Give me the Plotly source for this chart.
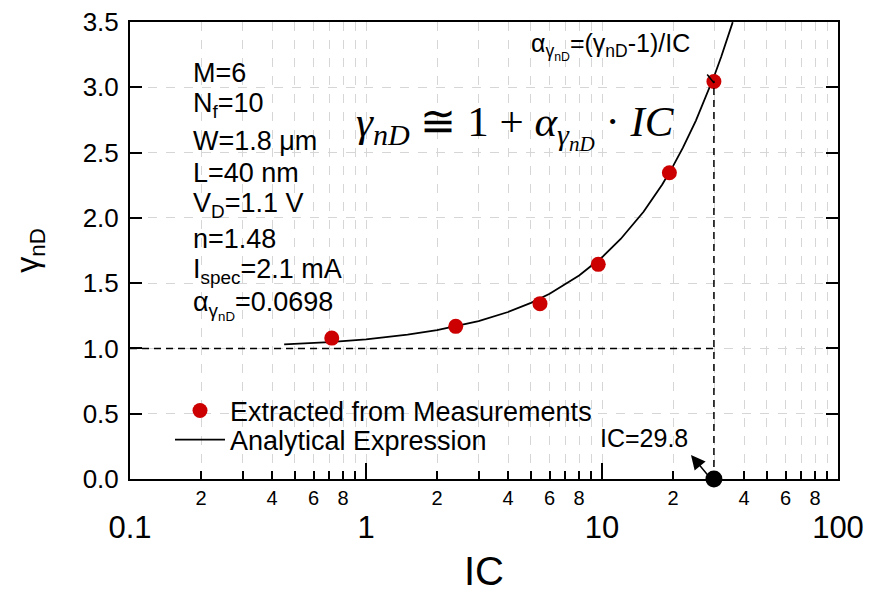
import plotly.graph_objects as go

# ---- data ----
meas_ic = [0.716, 2.40, 5.46, 9.64, 19.3, 29.8]
meas_gamma = [1.079, 1.169, 1.343, 1.644, 2.346, 3.044]

curve_ic = [0.45, 0.7, 1.0, 1.5, 2.0, 3.0, 4.0, 5.0, 6.0, 8.0, 10.0, 12.0, 15.0,
            18.0, 20.0, 22.0, 25.0, 28.0, 30.0, 32.0, 34.0, 35.8]
curve_gamma = [1.031, 1.049, 1.070, 1.105, 1.140, 1.209, 1.279, 1.349, 1.419, 1.558,
               1.698, 1.838, 2.047, 2.256, 2.396, 2.536, 2.745, 2.954, 3.094, 3.234,
               3.373, 3.499]

ic_mark = 29.8
gamma_mark = 3.05
gamma_unity = 1.0
x_start = 0.1

major_vals = [0.1, 1, 10, 100]
major_text = ["0.1", "1", "10", "100"]
minor_vals = [m * d for d in [0.1, 1, 10] for m in range(1, 10)] + [100]
minor_text = [("%d" % m) if m in (2, 4, 6, 8) else "" for d in [0.1, 1, 10] for m in range(1, 10)] + [""]

y_ticks = [0, 0.5, 1.0, 1.5, 2.0, 2.5, 3.0, 3.5]

info_lines = ["M=6", "N<sub>f</sub>=10", "W=1.8 μm", "L=40 nm", "V<sub>D</sub>=1.1 V",
              "n=1.48", "I<sub>spec</sub>=2.1 mA", "α<sub>γ<sub>nD</sub></sub>=0.0698"]

SANS = "Liberation Sans, Arial, sans-serif"
NARROW = "Liberation Sans Narrow, Liberation Sans, Arial, sans-serif"
SERIF = "Liberation Serif, Times New Roman, serif"

W, H = 876, 593
ML, MR, MT, MB = 130, 38, 22, 114
PW, PH = W - ML - MR, H - MT - MB


def px(xp):
    return (xp - ML) / PW


def py(yp):
    return (H - MB - yp) / PH


fig = go.Figure()

fig.add_trace(go.Scatter(x=curve_ic, y=curve_gamma, mode="lines",
                         line=dict(color="black", width=1.8),
                         name="Analytical Expression", legend="legend2"))
fig.add_trace(go.Scatter(x=meas_ic, y=meas_gamma, mode="markers",
                         marker=dict(color="#cc0000", size=15),
                         name="Extracted from Measurements", legend="legend"))
fig.add_trace(go.Scatter(x=[x_start, ic_mark], y=[gamma_unity, gamma_unity], mode="lines",
                         line=dict(color="black", width=1.5, dash="7px,5px"),
                         showlegend=False, hoverinfo="skip"))
fig.add_trace(go.Scatter(x=[ic_mark, ic_mark], y=[0, gamma_mark], mode="lines",
                         line=dict(color="black", width=1.5, dash="7px,5px"),
                         showlegend=False, hoverinfo="skip"))
fig.add_trace(go.Scatter(x=[ic_mark], y=[0], mode="markers", xaxis="x2",
                         marker=dict(color="black", size=17), cliponaxis=False,
                         showlegend=False, hoverinfo="skip"))

leg_common = dict(xanchor="left", yanchor="middle", bgcolor="rgba(0,0,0,0)",
                  font=dict(size=27, family=SANS), itemwidth=50, borderwidth=0)

fig.update_layout(
    width=W, height=H,
    margin=dict(l=ML, r=MR, t=MT, b=MB, autoexpand=False),
    plot_bgcolor="white", paper_bgcolor="white",
    font=dict(family=SANS, color="black"),
    xaxis=dict(type="log", range=[-1, 2], tickmode="array", tickvals=minor_vals,
               ticktext=minor_text, ticks="inside", ticklen=8, tickwidth=1.5,
               tickcolor="black", tickfont=dict(size=20, family=NARROW),
               showline=True, linewidth=2, linecolor="black", mirror=True,
               showgrid=True, gridcolor="#d6d6d6", griddash="dash", gridwidth=1,
               zeroline=False, automargin=False),
    xaxis2=dict(type="log", range=[-1, 2], overlaying="x", anchor="y", side="bottom",
                tickmode="array", tickvals=major_vals, ticktext=major_text,
                ticks="inside", ticklen=16, tickwidth=1.5, tickcolor="black",
                tickfont=dict(size=31, family=NARROW), ticklabelstandoff=27,
                showline=False, showgrid=False, zeroline=False, automargin=False,
                title=dict(text="IC", font=dict(size=40, family=NARROW), standoff=22)),
    yaxis=dict(range=[0, 3.5], tickmode="array", tickvals=y_ticks, tickformat=".1f",
               ticks="inside", ticklen=12, tickwidth=1.5, tickcolor="black",
               tickfont=dict(size=26), showline=True, linewidth=2, linecolor="black",
               mirror="ticks", showgrid=True, gridcolor="#d6d6d6", griddash="dash",
               gridwidth=1, zeroline=False, ticklabelstandoff=4, automargin=False,
               title=dict(text="γ<sub>nD</sub>", font=dict(size=32), standoff=34)),
    legend=dict(x=px(170), y=py(411), **leg_common),
    legend2=dict(x=px(170), y=py(440), **leg_common),
)

# white box behind the parameter list
fig.add_shape(type="rect", xref="paper", yref="paper",
              x0=px(188), x1=px(352), y0=py(325), y1=py(55),
              fillcolor="white", line=dict(width=0), layer="between")
# white box behind the legend
fig.add_shape(type="rect", xref="paper", yref="paper",
              x0=px(168), x1=px(606), y0=py(456), y1=py(396),
              fillcolor="white", line=dict(width=0), layer="between")

info_y = [73, 105, 141, 173, 205, 239, 271, 305]
for t, yp in zip(info_lines, info_y):
    fig.add_annotation(text=t, xref="paper", yref="paper", x=px(191), y=py(yp),
                       xanchor="left", yanchor="middle", showarrow=False,
                       font=dict(size=27, family=SANS))

fig.add_annotation(
    text="<i>γ<sub>nD</sub></i> ≅ 1 + <i>α<sub>γ<sub>nD</sub></sub></i> · <i>IC</i>",
    xref="paper", yref="paper", x=px(354), y=py(127), xanchor="left", yanchor="middle",
    showarrow=False, font=dict(size=43, family=SERIF))

fig.add_annotation(
    text="α<sub>γ<sub>nD</sub></sub>=(γ<sub>nD</sub>-1)/IC",
    xref="paper", yref="paper", x=px(529), y=py(47), xanchor="left", yanchor="middle",
    showarrow=False, font=dict(size=25, family=SANS))

fig.add_annotation(text="", xref="paper", yref="paper", x=px(714), y=py(83),
                   ax=-8, ay=-10, showarrow=True, arrowhead=0, arrowwidth=1.5,
                   arrowcolor="black")

fig.add_annotation(text="IC=29.8", xref="paper", yref="paper", x=px(598), y=py(438),
                   xanchor="left", yanchor="middle", showarrow=False,
                   font=dict(size=25, family=SANS))

fig.add_annotation(text="", xref="paper", yref="paper", x=px(691), y=py(455),
                   ax=20, ay=24, showarrow=True, arrowhead=2, arrowsize=1.9,
                   arrowwidth=1.5, arrowcolor="black", standoff=0, startstandoff=0)

fig.write_html("out.html")
